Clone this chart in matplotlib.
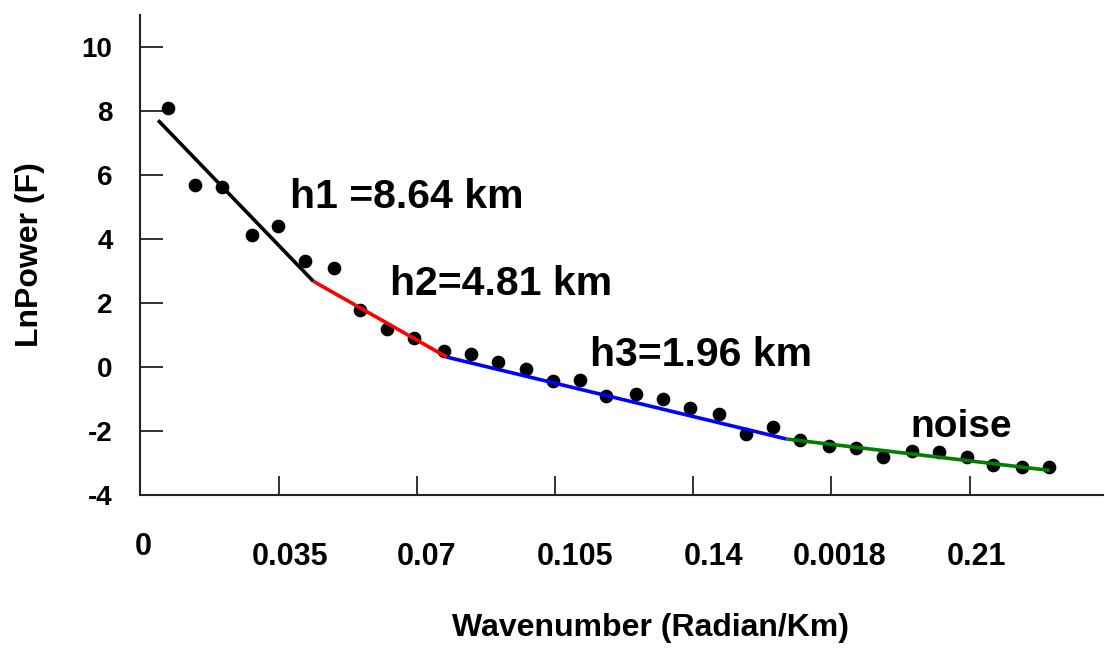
import matplotlib
matplotlib.use("Agg")
import matplotlib.pyplot as plt
import matplotlib.transforms as mtransforms

plt.rcParams['font.family'] = ['Liberation Sans', 'DejaVu Sans']

# points
wavenumber = [0.0071, 0.0138, 0.0206, 0.0282, 0.0348, 0.0418, 0.0490, 0.0556,
              0.0625, 0.0694, 0.0769, 0.0836, 0.0906, 0.0977, 0.1045, 0.1113,
              0.1180, 0.1255, 0.1324, 0.1391, 0.1465, 0.1533, 0.1602, 0.1670,
              0.1743, 0.1812, 0.1880, 0.1954, 0.2022, 0.2092, 0.2159, 0.2232,
              0.2302]
ln_power = [8.11, 5.68, 5.63, 4.14, 4.41, 3.30, 3.09, 1.79,
            1.19, 0.90, 0.51, 0.41, 0.17, -0.05, -0.43, -0.40,
            -0.90, -0.85, -1.00, -1.29, -1.47, -2.08, -1.89, -2.27,
            -2.47, -2.52, -2.80, -2.62, -2.66, -2.80, -3.07, -3.14,
            -3.13]

# fitted segments
seg_x = [[0.0045, 0.0438], [0.0438, 0.0776], [0.0776, 0.1636], [0.1636, 0.2302]]
seg_y = [[7.71, 2.68], [2.68, 0.31], [0.31, -2.25], [-2.25, -3.23]]
seg_colors = ['black', '#ff0000', '#0000ff', '#008000']

labels_txt = ['h1 =8.64 km', 'h2=4.81 km', 'h3=1.96 km', 'noise']
labels_x = [0.038, 0.0633, 0.1139, 0.1949]
labels_y = [4.98, 2.26, 0.03, -2.19]
labels_size = [29.5, 29.5, 29.5, 28]

xticks = [0, 0.035, 0.07, 0.105, 0.14, 0.175, 0.21]
xtick_labels = ['0', '0.035', '0.07', '0.105', '0.14', '0.0018', '0.21']
yticks = [-4, -2, 0, 2, 4, 6, 8, 10]

fig = plt.figure(figsize=(11.05, 6.48), dpi=100)
ax = fig.add_axes([0.127, 0.2361, 0.871, 0.7407])

ax.scatter(wavenumber, ln_power, s=78, color='black', zorder=2)
for xs, ys, c in zip(seg_x, seg_y, seg_colors):
    ax.plot(xs, ys, color=c, lw=2.6, zorder=3, solid_capstyle='butt')

for t, x, y, fs in zip(labels_txt, labels_x, labels_y, labels_size):
    ax.text(x, y, t, fontsize=fs, fontweight='bold', va='baseline', ha='left')

ax.set_xlim(0, 0.2437)
ax.set_ylim(-4, 11)
ax.set_xticks(xticks)
ax.set_xticklabels(xtick_labels, fontweight='bold')
ax.set_yticks(yticks)
ax.set_yticklabels([str(v) for v in yticks], fontweight='bold')

for s in ['top', 'right']:
    ax.spines[s].set_visible(False)
for s in ['left', 'bottom']:
    ax.spines[s].set_color('#222222')
    ax.spines[s].set_linewidth(1.5)

ax.tick_params(axis='y', direction='in', length=16.5, width=1.3, pad=20,
               labelsize=20, color='#222222')
ax.tick_params(axis='x', direction='in', length=14, width=1.3, pad=34,
               labelsize=22, color='#222222')

# the x labels sit a bit right of their ticks in the original
dx = [3, 12, 10, 20, 20, 8, 7]
dy = [10, 0, 0, 0, 0, 0, 0]
for lab, ox, oy in zip(ax.get_xticklabels(), dx, dy):
    lab.set_transform(lab.get_transform() +
                      mtransforms.ScaledTranslation(ox / 100, oy / 100, fig.dpi_scale_trans))

fig.text(651 / 1105, 1 - 628 / 648, 'Wavenumber (Radian/Km)', fontsize=23,
         fontweight='bold', ha='center', va='center')
fig.text(30 / 1105, 1 - 255 / 648, 'LnPower (F)', fontsize=23,
         fontweight='bold', ha='center', va='center', rotation=90)

fig.savefig('out.png', dpi=100)
